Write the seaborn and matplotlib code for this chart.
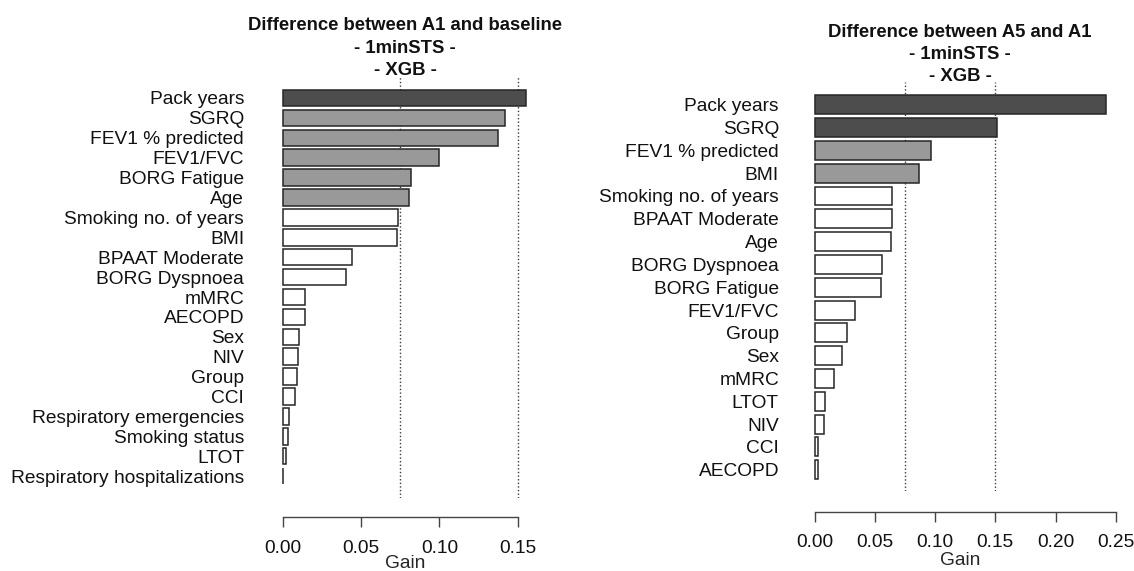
import matplotlib
matplotlib.use("Agg")
import matplotlib.pyplot as plt
import seaborn as sns
import pandas as pd

# ---------------- data ----------------
left_features = ["Pack years", "SGRQ", "FEV1 % predicted", "FEV1/FVC", "BORG Fatigue", "Age",
                 "Smoking no. of years", "BMI", "BPAAT Moderate", "BORG Dyspnoea", "mMRC",
                 "AECOPD", "Sex", "NIV", "Group", "CCI", "Respiratory emergencies",
                 "Smoking status", "LTOT", "Respiratory hospitalizations"]
left_gain = [0.1556, 0.1420, 0.1377, 0.0999, 0.0818, 0.0808, 0.0735, 0.0729, 0.0439, 0.0401,
             0.0143, 0.0140, 0.0104, 0.0096, 0.0088, 0.0079, 0.0036, 0.0030, 0.0019, 0.0002]
left_cluster = [1, 2, 2, 2, 2, 2, 3, 3, 3, 3, 3, 3, 3, 3, 3, 3, 3, 3, 3, 3]

right_features = ["Pack years", "SGRQ", "FEV1 % predicted", "BMI", "Smoking no. of years",
                  "BPAAT Moderate", "Age", "BORG Dyspnoea", "BORG Fatigue", "FEV1/FVC", "Group",
                  "Sex", "mMRC", "LTOT", "NIV", "CCI", "AECOPD"]
right_gain = [0.2417, 0.1512, 0.0966, 0.0864, 0.0645, 0.0645, 0.0634, 0.0562, 0.0553, 0.0335,
              0.0271, 0.0227, 0.0163, 0.0086, 0.0075, 0.0025, 0.0025]
right_cluster = [1, 1, 2, 2, 3, 3, 3, 3, 3, 3, 3, 3, 3, 3, 3, 3, 3]

left_title = "Difference between A1 and baseline\n- 1minSTS -\n- XGB -"
right_title = "Difference between A5 and A1\n- 1minSTS -\n- XGB -"
left_ticks = [0.00, 0.05, 0.10, 0.15]
right_ticks = [0.00, 0.05, 0.10, 0.15, 0.20, 0.25]
ref_lines = [0.075, 0.15]
x_label = "Gain"

cluster_colors = {1: "#4d4d4d", 2: "#999999", 3: "#ffffff"}

# ---------------- style ----------------
sns.set_theme(style="white")
plt.rcParams["font.family"] = ["Liberation Sans", "DejaVu Sans"]
plt.rcParams["text.color"] = "#111111"

W, H, DPI = 1134, 571, 100
fig = plt.figure(figsize=(W / DPI, H / DPI), dpi=DPI)


def px_axes(x0, x1, y0, y1):
    return fig.add_axes([x0 / W, (H - y1) / H, (x1 - x0) / W, (y1 - y0) / H])


def panel(ax, feats, gains, clusters, xlim, ticks, ylim, ylab_pad, spine_off, xlab_pad):
    df = pd.DataFrame({"feature": feats, "gain": gains})
    pal = [cluster_colors[c] for c in clusters]
    sns.barplot(data=df, x="gain", y="feature", hue="feature", palette=pal, legend=False,
                orient="h", width=0.83, edgecolor="#262626", linewidth=1.1, ax=ax,
                saturation=1)
    for v in ref_lines:
        ax.axvline(v, color="#3a3a3a", linestyle=(0, (1, 1.6)), linewidth=1.0, zorder=0)
    ax.set_xlim(*xlim)
    ax.set_ylim(*ylim)
    for s in ["left", "top", "right"]:
        ax.spines[s].set_visible(False)
    ax.spines["bottom"].set_position(("outward", spine_off))
    ax.spines["bottom"].set_bounds(ticks[0], ticks[-1])
    ax.spines["bottom"].set_color("#444444")
    ax.spines["bottom"].set_linewidth(1.0)
    ax.set_xticks(ticks)
    ax.set_xticklabels([f"{t:.2f}" for t in ticks])
    ax.tick_params(axis="x", direction="out", length=7.2, width=1.0, color="#444444",
                   labelsize=13.8, pad=9.0, labelcolor="#111111", bottom=True)
    ax.tick_params(axis="y", length=0, labelsize=13.8, pad=ylab_pad, labelcolor="#111111")
    ax.set_ylabel("")
    ax.set_xlabel(x_label, fontsize=13.8, labelpad=xlab_pad)
    ax.set_facecolor("none")
    ax.grid(False)


axL = px_axes(273.6, 536.4, 77, 498)
panel(axL, left_features, left_gain, left_cluster, (-0.006, 0.162), left_ticks,
      (19 + 1.1, -1.055), 21.3, 13.7, -1.0)
axR = px_axes(803, 1117.4, 82, 491)
panel(axR, right_features, right_gain, right_cluster, (-0.0097, 0.2514), right_ticks,
      (16 + 0.93, -0.995), 17.3, 15.1, 0.5)

fig.text((273.6 + 536.4) / 2 / W, 1 - 48.2 / H, left_title, ha="center", va="center",
         fontsize=13.3, fontweight="bold", linespacing=1.44, multialignment="center")
fig.text((803 + 1117.4) / 2 / W, 1 - 54.8 / H, right_title, ha="center", va="center",
         fontsize=13.3, fontweight="bold", linespacing=1.38, multialignment="center")

fig.savefig("out.png", dpi=DPI)
